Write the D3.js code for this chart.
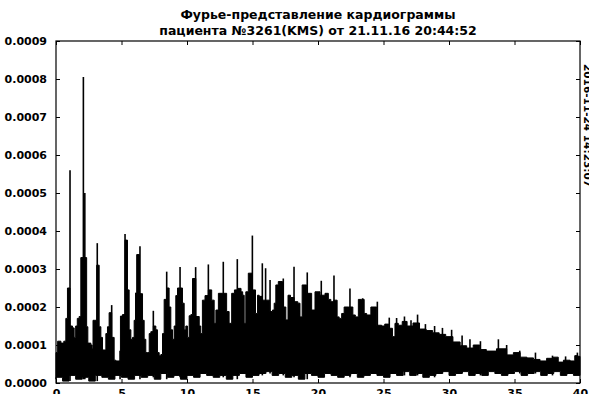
<!DOCTYPE html>
<html>
<head>
<meta charset="utf-8">
<script src="https://cdn.jsdelivr.net/npm/d3@7"></script>
<style>
  html, body { margin: 0; padding: 0; background: #fff; overflow: hidden; }
  svg { display: block; font-family: "DejaVu Sans", Verdana, sans-serif; font-weight: bold; }
</style>
</head>
<body>
<div id="chart"></div>
<script>
const titleLines = ['Фурье-представление кардиограммы', 'пациента №3261(KMS) от 21.11.16 20:44:52'];
const stampText = '2016-11-24 14:23:07';

const xTicks = [0, 5, 10, 15, 20, 25, 30, 35, 40];
const yTicks = [0, 0.0001, 0.0002, 0.0003, 0.0004, 0.0005, 0.0006, 0.0007, 0.0008, 0.0009];

// upper edge of the dense part of the spectrum, amplitude in units of 1e-4
const envFreq = [0, 0.25, 0.5, 0.69, 0.81, 0.94, 1.2, 1.32, 1.45, 1.55, 1.7, 1.83, 1.96, 2.29, 2.39, 2.47, 2.6, 2.72, 2.8,
  2.85, 2.98, 3.23, 3.36, 3.49, 3.61, 3.74, 3.87, 3.99, 4.12, 4.38, 4.5, 4.63, 4.83, 5.01, 5.14, 5.39, 5.52, 5.65, 5.78,
  5.9, 6.03, 6.11, 6.21, 6.54, 6.67, 6.79, 6.92, 7.05, 7.18, 7.3, 7.56, 7.68, 7.81, 7.94, 8.07, 8.19, 8.32, 8.57, 8.7,
  8.83, 8.96, 9.08, 9.21, 9.34, 9.59, 9.72, 9.85, 9.97, 10.1, 10.23, 10.36, 10.48, 10.87, 11.0, 11.1, 11.25, 11.5,
  11.76, 12.01, 12.14, 12.27, 12.52, 12.9, 13.15, 13.28, 13.54, 13.7, 14.05, 14.2, 14.3, 14.43, 14.55, 14.81, 15.14,
  15.32, 15.45, 15.57, 15.9, 16.16, 16.46, 16.59, 16.72, 16.84, 17.1, 17.48, 17.61, 17.81, 17.99, 18.37, 18.55, 18.7,
  18.88, 19.39, 19.64, 19.9, 20.41, 20.66, 20.92, 21.04, 21.37, 21.55, 21.68, 21.93, 22.06, 22.57, 22.75, 22.95, 23.21,
  23.46, 23.59, 23.84, 24.23, 24.73, 24.99, 25.2, 25.62, 25.75, 26.0, 26.26, 26.6, 27.0, 27.5, 28.0, 28.5, 29.0, 29.5,
  30.0, 30.6, 31.1, 31.6, 32.1, 32.6, 33.1, 34.15, 34.66, 35.17, 35.69, 36.2, 36.7, 37.2, 37.7, 38.2, 38.48, 38.99,
  39.5, 39.7, 40];
const envAmp = [0.8, 1.1, 1.05, 1.1, 1.7, 2.5, 1.5, 1.45, 1.2, 1.5, 1.7, 1.75, 3.3, 3.3, 1.48, 1.05, 1.05, 1.0, 0.9,
  1.65, 1.65, 3.1, 1.48, 1.2, 0.87, 0.87, 1.3, 1.48, 1.85, 1.2, 0.6, 0.58, 0.58, 1.76, 1.8, 3.76, 2.45, 1.4, 1.15,
  1.2, 1.65, 2.37, 3.38, 2.35, 1.65, 1.15, 0.8, 0.8, 1.3, 1.35, 1.5, 1.4, 0.8, 0.72, 0.75, 1.3, 2.2, 2.5, 2.0,
  1.4, 1.15, 1.5, 2.3, 2.5, 2.5, 2.1, 1.4, 1.5, 1.2, 1.77, 1.8, 2.75, 1.75, 1.5, 1.3, 2.18, 2.3,
  2.45, 2.18, 1.57, 1.92, 2.36, 2.36, 1.88, 1.57, 2.36, 2.45, 2.49, 2.4, 2.31, 1.57, 2.4, 2.89, 2.45,
  1.83, 2.31, 2.28, 2.18, 2.18, 1.88, 1.92, 2.1, 2.58, 2.67, 2.0, 1.66, 2.31, 2.25, 2.14, 2.1, 1.74,
  2.58, 2.36, 1.92, 2.4, 2.31, 2.36, 2.2, 2.14, 2.18, 1.74, 1.7, 1.83, 2.0, 2.0, 1.79, 1.74, 2.2,
  2.2, 1.83, 1.79, 2.0, 1.52, 1.5, 1.55, 1.44, 1.22, 1.57, 1.52, 1.62, 1.5, 1.58, 1.42, 1.38, 1.32, 1.28,
  1.22, 1.08, 0.98, 0.92, 1.0, 0.88, 0.84, 0.9, 0.74, 0.8, 0.68, 0.66, 0.62, 0.58, 0.65, 0.68, 0.55, 0.6,
  0.58, 0.72, 0.7];

// narrow spectral lines sticking out of the dense part (1e-4)
const spikeFreq = [1.07, 2.09, 2.2, 3.15, 4.25, 4.89, 5.27, 5.39, 6.41, 7.43, 8.45, 9.47, 10.66, 11.63, 12.77, 13.84,
  14.99, 15.75, 16.0, 16.34, 17.35, 18.17, 19.18, 20.25, 21.22, 22.44, 23.41, 24.53, 25.44, 26.0, 26.6, 27.1, 27.6,
  28.2, 28.9, 29.5, 30.2, 31.0, 31.6, 32.4, 33.77, 34.4, 35.4, 36.6, 37.9, 38.9, 39.8];
const spikeAmp = [5.6, 8.05, 5.0, 3.68, 2.05, 0.85, 3.92, 3.76, 3.6, 1.9, 2.93, 3.05, 3.05, 3.12, 3.19, 3.26,
  3.88, 3.15, 3.02, 2.71, 2.75, 3.06, 2.91, 2.69, 2.83, 2.49, 2.23, 2.14, 1.72, 1.71, 1.75, 1.65, 1.8,
  1.55, 1.5, 1.45, 1.4, 1.25, 1.15, 1.1, 1.15, 1.0, 0.85, 0.8, 0.72, 0.7, 0.8];

// lower edge of the dense part, every 0.5 Hz from 0 to 40 (1e-4)
const floorAmp = [0.1, 0.15, 0.05, 0.2, 0.1, 0.15, 0.05, 0.2, 0.15, 0.1, 0.2, 0.15, 0.1, 0.2, 0.15, 0.2, 0.1, 0.25,
  0.15, 0.2, 0.1, 0.2, 0.15, 0.25, 0.2, 0.15, 0.2, 0.1, 0.2, 0.25, 0.15, 0.2, 0.25, 0.3, 0.2, 0.25, 0.15, 0.2,
  0.1, 0.25, 0.2, 0.15, 0.25, 0.2, 0.15, 0.2, 0.25, 0.15, 0.2, 0.25, 0.2, 0.15, 0.25, 0.2, 0.3, 0.2, 0.25, 0.15,
  0.2, 0.25, 0.3, 0.2, 0.25, 0.3, 0.2, 0.25, 0.2, 0.3, 0.25, 0.2, 0.25, 0.3, 0.2, 0.25, 0.3, 0.2, 0.25, 0.3,
  0.2, 0.25, 0.2];
const floorStep = 0.5;

const width = 589;
const height = 394;
const margin = { top: 41, right: 9, bottom: 11, left: 56 };

const svg = d3.select('#chart')
  .append('svg')
  .attr('width', width)
  .attr('height', height);

const x = d3.scaleLinear().domain([0, 40]).range([margin.left, width - margin.right]);
const y = d3.scaleLinear().domain([0, 0.0009]).range([height - margin.bottom, margin.top]);

const floorAt = f => {
  const i = Math.min(floorAmp.length - 1, Math.floor(f / floorStep));
  return floorAmp[i] * 1e-4;
};

const floorPts = floorAmp.map((v, i) => [i * floorStep, v * 1e-4]);
const envPts = envFreq.map((f, i) => [f, envAmp[i] * 1e-4]);

const plot = svg.append('g');

// dense body: black between floor and envelope
const bodyTop = d3.line()
  .curve(d3.curveStep)
  .x(d => x(d[0]))
  .y(d => y(d[1]));

const bodyBottom = d3.line()
  .curve(d3.curveStepAfter)
  .x(d => x(d[0]))
  .y(d => y(d[1]));

const bottomPath = bodyBottom(floorPts.slice().reverse());
plot.append('path')
  .attr('d', bodyTop(envPts) + 'L' + bottomPath.slice(1) + 'Z')
  .attr('fill', '#000')
  .attr('stroke', '#000')
  .attr('stroke-width', 1);

plot.selectAll('line.spike')
  .data(spikeFreq.map((f, i) => [f, spikeAmp[i] * 1e-4]))
  .enter()
  .append('line')
  .attr('class', 'spike')
  .attr('x1', d => x(d[0]))
  .attr('x2', d => x(d[0]))
  .attr('y1', d => y(floorAt(d[0])))
  .attr('y2', d => y(d[1]))
  .attr('stroke', '#000')
  .attr('stroke-width', 1.6);

// axes, matplotlib classic: ticks inside on all four sides
const fmtY = d3.format('.4f');

svg.append('g')
  .attr('transform', 'translate(0,' + (height - margin.bottom) + ')')
  .call(d3.axisBottom(x).tickValues(xTicks).tickSizeInner(-4).tickSizeOuter(0).tickPadding(6).tickFormat(d3.format('d')));

svg.append('g')
  .attr('transform', 'translate(' + margin.left + ',0)')
  .call(d3.axisLeft(y).tickValues(yTicks).tickSizeInner(-4).tickSizeOuter(0).tickPadding(9).tickFormat(fmtY));

svg.append('g')
  .attr('transform', 'translate(0,' + margin.top + ')')
  .call(d3.axisTop(x).tickValues(xTicks).tickSizeInner(-4).tickSizeOuter(0).tickFormat(''));

svg.append('g')
  .attr('transform', 'translate(' + (width - margin.right) + ',0)')
  .call(d3.axisRight(y).tickValues(yTicks).tickSizeInner(-4).tickSizeOuter(0).tickFormat(''));

svg.selectAll('.domain').remove();
svg.selectAll('.tick line').attr('stroke', '#000').attr('stroke-width', 1);
svg.selectAll('.tick text')
  .attr('fill', '#000')
  .style('font-family', '"DejaVu Sans", sans-serif')
  .style('font-weight', 'bold')
  .style('font-size', '11px');

svg.append('rect')
  .attr('x', margin.left)
  .attr('y', margin.top)
  .attr('width', width - margin.left - margin.right)
  .attr('height', height - margin.top - margin.bottom)
  .attr('fill', 'none')
  .attr('stroke', '#000')
  .attr('stroke-width', 1.2);

const cx = (margin.left + width - margin.right) / 2;
svg.append('g')
  .selectAll('text')
  .data(titleLines)
  .enter()
  .append('text')
  .attr('x', cx)
  .attr('y', (d, i) => 19 + i * 16)
  .attr('text-anchor', 'middle')
  .style('font-size', '12.5px')
  .text(d => d);

svg.append('text')
  .attr('transform', 'translate(584,64) rotate(90)')
  .style('font-size', '10.5px')
  .text(stampText);
</script>
</body>
</html>
